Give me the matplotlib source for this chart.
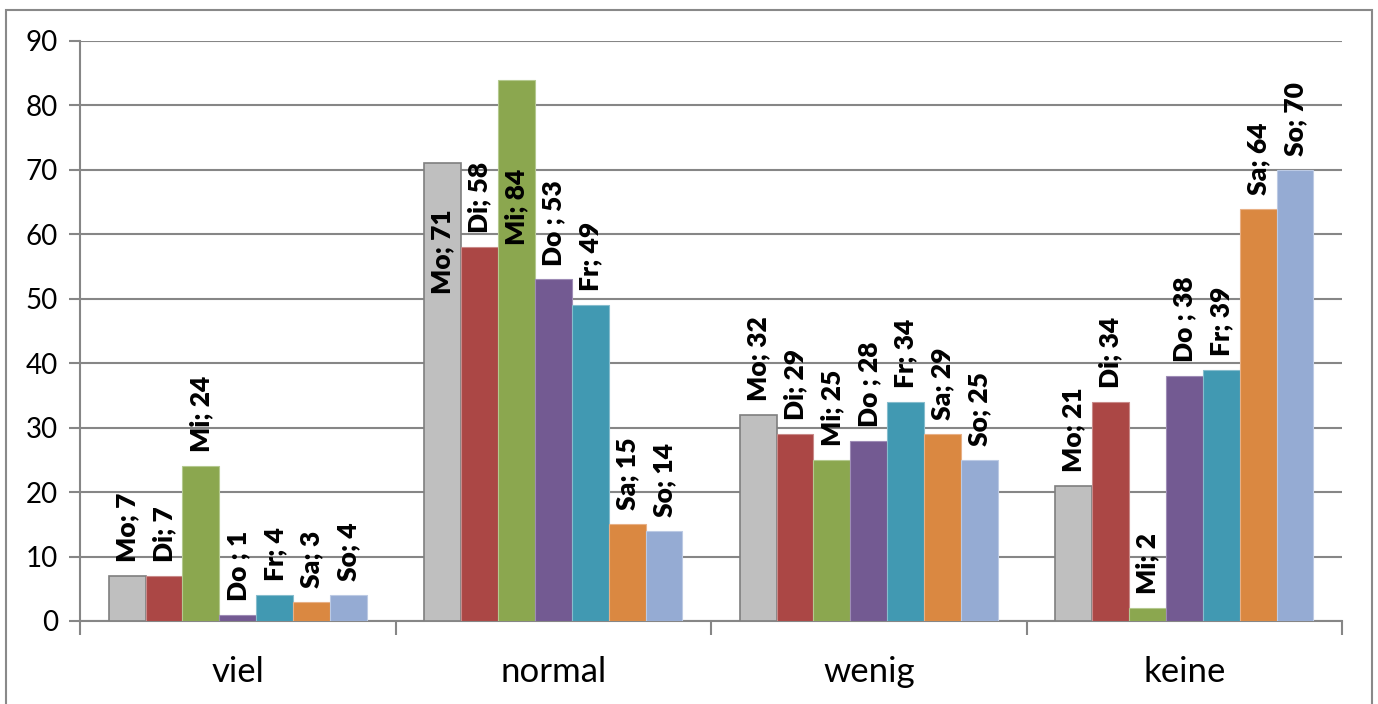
import numpy as np
import matplotlib.pyplot as plt
from matplotlib.patches import Rectangle

plt.rcParams['font.family'] = ['Lato', 'DejaVu Sans']

# categories and one value list per weekday
categories = ['viel', 'normal', 'wenig', 'keine']
days = ['Mo', 'Di', 'Mi', 'Do', 'Fr', 'Sa', 'So']
mo = [7, 71, 32, 21]
di = [7, 58, 29, 34]
mi = [24, 84, 25, 2]
do = [1, 53, 28, 38]
fr = [4, 49, 34, 39]
sa = [3, 15, 29, 64]
so = [4, 14, 25, 70]
series = [mo, di, mi, do, fr, sa, so]
# label separators as typed in the sheet
seps = ['; ', '; ', '; ', ' ; ', '; ', '; ', '; ']

colors = ['#BFBFBF', '#AB4745', '#8BA74F', '#735A92', '#4199B2', '#DA8841', '#95ABD3']
edges = ['#7F7F7F', '#C98A89', '#B4C98F', '#9E8CB6', '#86BDCD', '#E8B086', '#BCCAE4']

# labels that sit inside their bar (series index, category index) -> bottom of text
inside = {(0, 1): 50.8, (2, 1): 58.3}

fig = plt.figure(figsize=(13.78, 7.04), dpi=100)
# chart area frame, bottom edge runs off the canvas
fig.patches.append(Rectangle((0.004, -0.02), 0.992, 1.006, transform=fig.transFigure,
                             fill=False, edgecolor='#898989', linewidth=1.5))
ax = fig.add_axes([0.0581, 0.1179, 0.9158, 0.8239])

x = np.arange(len(categories))
w = 0.117
for i, vals in enumerate(series):
    pos = x + (i - 3) * w
    ax.bar(pos, vals, width=w, color=colors[i], edgecolor=edges[i],
           linewidth=1.2 if i == 0 else 0.8, zorder=3)
    for j, v in enumerate(vals):
        txt = f'{days[i]}{seps[i]}{v}'
        if (i, j) in inside:
            ax.text(pos[j], inside[(i, j)], txt, rotation=90, ha='center', va='bottom',
                    fontsize=19, fontweight='heavy', zorder=4)
        else:
            ax.annotate(txt, (pos[j], v), xytext=(0, 10), textcoords='offset points',
                        rotation=90, ha='center', va='bottom',
                        fontsize=19, fontweight='heavy', zorder=4)

ax.set_xlim(-0.5, 3.5)
ax.set_ylim(0, 90)
ax.set_yticks(range(0, 91, 10))
ax.yaxis.grid(True, color='#868686', linewidth=1.5, zorder=0)
ax.set_axisbelow(True)

# category names centred, separator ticks between groups
ax.set_xticks(x)
ax.set_xticklabels(categories, fontsize=25)
ax.set_xticks(np.arange(-0.5, 4, 1), minor=True)
ax.tick_params(axis='x', which='major', length=0, pad=25)
ax.tick_params(axis='x', which='minor', length=10, width=1.5, color='#868686')
ax.tick_params(axis='y', length=8, width=1.5, color='#868686', labelsize=20, pad=8)

for side in ['top', 'right']:
    ax.spines[side].set_visible(False)
for side in ['left', 'bottom']:
    ax.spines[side].set_color('#868686')
    ax.spines[side].set_linewidth(1.5)

fig.savefig('out.png', dpi=100)
